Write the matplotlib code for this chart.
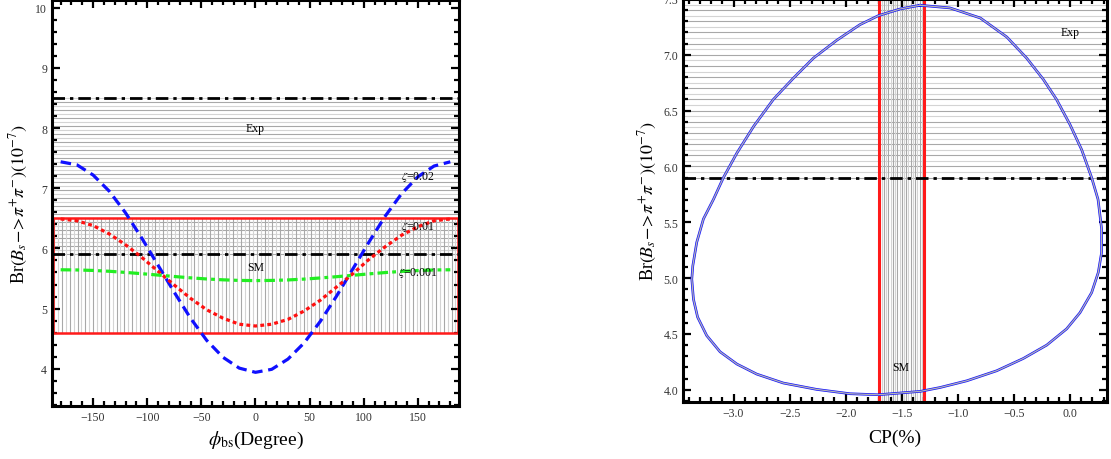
import numpy as np
import matplotlib
matplotlib.use("Agg")
import matplotlib.pyplot as plt
from matplotlib.ticker import MultipleLocator
from matplotlib.patches import Rectangle

plt.rcParams['font.family'] = ['Liberation Serif', 'DejaVu Serif']
plt.rcParams['mathtext.fontset'] = 'stix'

# left panel: Br vs phi_bs for three zeta values
phi = [-180, -165, -150, -135, -120, -105, -90, -75, -60, -45, -30, -15, 0,
       15, 30, 45, 60, 75, 90, 105, 120, 135, 150, 165, 180]
br_z002 = [7.44, 7.39, 7.22, 6.95, 6.59, 6.17, 5.72, 5.27, 4.84, 4.47, 4.19, 4.01, 3.94,
           3.99, 4.16, 4.43, 4.79, 5.21, 5.66, 6.11, 6.54, 6.91, 7.19, 7.37, 7.44]
br_z001 = [6.49, 6.46, 6.38, 6.24, 6.06, 5.85, 5.62, 5.39, 5.17, 4.98, 4.84, 4.74, 4.71,
           4.74, 4.82, 4.96, 5.14, 5.36, 5.58, 5.82, 6.03, 6.22, 6.36, 6.46, 6.49]
br_z0001 = [5.645, 5.642, 5.634, 5.620, 5.601, 5.580, 5.557, 5.533, 5.511, 5.492, 5.478, 5.468, 5.465,
            5.468, 5.476, 5.490, 5.509, 5.530, 5.553, 5.577, 5.599, 5.618, 5.632, 5.642, 5.645]
zeta_labels = ['$\\zeta$=0.02', '$\\zeta$=0.01', '$\\zeta$=0.001']

# experimental and SM ranges
exp_lo, exp_hi = 5.9, 8.5
sm_lo, sm_hi = 4.6, 6.5
cp_sm_lo, cp_sm_hi = -1.7, -1.3

loop_cp = [-1.338, -1.07, -0.80, -0.564, -0.386, -0.238, -0.12, 0.0, 0.104, 0.193,
           0.25, 0.282, 0.282, 0.252, 0.193, 0.089, -0.03, -0.207, -0.416, -0.653,
           -0.92, -1.158, -1.336, -1.71, -1.96, -2.259, -2.556, -2.793, -2.97, -3.12,
           -3.239, -3.32, -3.357, -3.372, -3.363, -3.328, -3.268, -3.179, -3.09, -2.97,
           -2.82, -2.645, -2.467, -2.288, -2.08, -1.873, -1.71, -1.517, -1.338]
loop_br = [7.444, 7.42, 7.33, 7.16, 6.97, 6.78, 6.60, 6.375, 6.15, 5.90,
           5.705, 5.44, 5.23, 5.05, 4.87, 4.69, 4.545, 4.40, 4.28, 4.17,
           4.08, 4.02, 3.985, 3.955, 3.964, 4.003, 4.06, 4.14, 4.23, 4.34,
           4.485, 4.65, 4.81, 4.99, 5.11, 5.32, 5.53, 5.705, 5.90, 6.12,
           6.36, 6.60, 6.79, 6.97, 7.13, 7.27, 7.35, 7.41, 7.444]

fig = plt.figure(figsize=(11.11, 4.6), dpi=100)
ax1 = fig.add_axes([0.0468, 0.1152, 0.3663, 0.8826])
ax2 = fig.add_axes([0.6148, 0.1239, 0.3816, 0.8761])

gray_a, gray_b = '#a8a8a8', '#d4d4d4'
dashdot = (0, (4.5, 1.8, 1.2, 1.8))


def style_axes(ax, xmaj, xmin, ymaj, ymin):
    for s in ax.spines.values():
        s.set_linewidth(2.2)
    ax.xaxis.set_major_locator(MultipleLocator(xmaj))
    ax.xaxis.set_minor_locator(MultipleLocator(xmin))
    ax.yaxis.set_major_locator(MultipleLocator(ymaj))
    ax.yaxis.set_minor_locator(MultipleLocator(ymin))
    ax.tick_params(which='both', direction='in', top=True, right=True,
                   labelsize=8.5, labelcolor='#333333', width=1.6)
    ax.tick_params(which='major', length=6)
    ax.tick_params(which='minor', length=3.5)


# ---- left panel ----
ax1.set_xlim(-188, 188)
ax1.set_ylim(3.38, 10.13)

# Exp band: horizontal hatching
for i, y in enumerate(np.linspace(exp_lo, exp_hi, 40)):
    ax1.axhline(y, color=gray_a if i % 2 == 0 else gray_b, lw=0.8, zorder=1)
# SM band: vertical hatching
for i, x in enumerate(np.arange(-186, 187, 3.6)):
    ax1.plot([x, x], [sm_lo, sm_hi], color=gray_a if i % 2 == 0 else gray_b, lw=0.8, zorder=1)
ax1.add_patch(Rectangle((-187, sm_lo), 374, sm_hi - sm_lo, fill=False,
                        edgecolor='#ff1a1a', lw=1.8, zorder=2))

ax1.axhline(exp_hi, color='black', lw=2, ls=dashdot, zorder=3)
ax1.axhline(exp_lo, color='black', lw=2, ls=dashdot, zorder=3)

ax1.plot(phi, br_z002, color='#1010ff', lw=2.3, ls=(0, (3.3, 1.8)), zorder=4)
ax1.plot(phi, br_z001, color='#ff1010', lw=2.3, ls=(0, (1.2, 1.0)), zorder=4)
ax1.plot(phi, br_z0001, color='#22ee22', lw=2.3, ls=(0, (3.3, 1.3, 1.2, 1.3)), zorder=4)

ax1.text(0, 8.0, 'Exp', ha='center', va='center', fontsize=8.5, zorder=5)
ax1.text(0, 5.69, 'SM', ha='center', va='center', fontsize=8.5, zorder=5)
ax1.text(150, 7.2, zeta_labels[0], ha='center', va='center', fontsize=8.5, zorder=5)
ax1.text(150, 6.38, zeta_labels[1], ha='center', va='center', fontsize=8.5, zorder=5)
ax1.text(150, 5.6, zeta_labels[2], ha='center', va='center', fontsize=8.5, zorder=5)

style_axes(ax1, 50, 10, 1, 0.2)
ax1.set_xlabel('$\\phi_{\\rm bs}$(Degree)', fontsize=14, labelpad=4)
ax1.set_ylabel('Br$(B_s\\!-\\!\\!>\\!\\pi^{+}\\pi^{-})(10^{-7})$', fontsize=13, labelpad=4)

# ---- right panel ----
ax2.set_xlim(-3.45, 0.33)
ax2.set_ylim(3.89, 7.5)

for i, y in enumerate(np.arange(exp_lo, 7.5, 0.05)):
    ax2.axhline(y, color=gray_a if i % 2 == 0 else gray_b, lw=0.8, zorder=1)
for i, x in enumerate(np.arange(cp_sm_lo, cp_sm_hi, 0.02)):
    ax2.axvline(x, color=gray_a if i % 2 == 0 else gray_b, lw=0.8, zorder=1)
ax2.axvline(cp_sm_lo, color='#ff1a1a', lw=2.2, zorder=2)
ax2.axvline(cp_sm_hi, color='#ff1a1a', lw=2.2, zorder=2)

ax2.axhline(exp_lo, color='black', lw=2, ls=dashdot, zorder=3)

ax2.plot(loop_cp, loop_br, color='#1010ff', lw=1.9, zorder=4, solid_joinstyle='round')
ax2.plot(loop_cp, loop_br, color='#b4b4b4', lw=0.9, zorder=5, solid_joinstyle='round')

ax2.text(0.0, 7.2, 'Exp', ha='center', va='center', fontsize=8.5, zorder=6)
ax2.text(-1.51, 4.2, 'SM', ha='center', va='center', fontsize=8.5, zorder=6)

style_axes(ax2, 0.5, 0.1, 0.5, 0.1)
ax2.set_xlabel('CP(%)', fontsize=14, labelpad=7)
ax2.set_ylabel('Br$(B_s\\!-\\!\\!>\\!\\pi^{+}\\pi^{-})(10^{-7})$', fontsize=13, labelpad=3)

fig.savefig('out.png', dpi=100)
